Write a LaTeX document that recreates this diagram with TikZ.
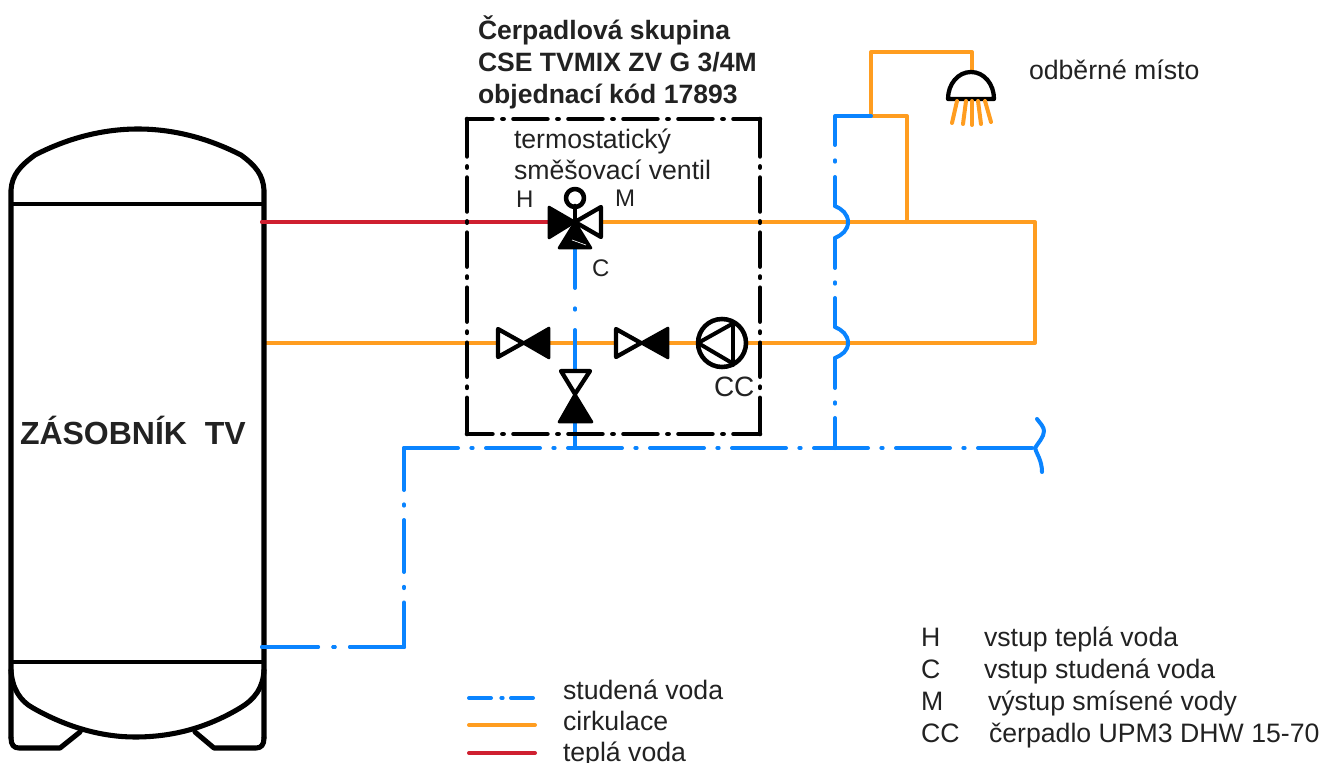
\documentclass[tikz,border=0pt]{standalone}
\usepackage{fontspec}
\setmainfont{Liberation Sans}
\definecolor{coldc}{HTML}{0A84FF}
\definecolor{circc}{HTML}{FF9D20}
\definecolor{hotc}{HTML}{CF2030}
\definecolor{txtc}{HTML}{222222}
\tikzset{
  pipe/.style={line width=3pt,line cap=round,line join=round},
  coldpipe/.style={pipe,draw=coldc},
  circpipe/.style={pipe,draw=circc},
  hotpipe/.style={pipe,draw=hotc},
  tankline/.style={draw=black,line width=3.8pt,line join=round,line cap=round},
  frameline/.style={draw=black,line width=3.4pt,line cap=round,line join=round},
  framev/.style={frameline,dash pattern=on 28.1pt off 7.4pt on 1pt off 7.4pt on 25.5pt off 7.4pt on 1pt off 7.4pt on 25.5pt off 7.4pt on 1pt off 7.4pt on 25.5pt off 7.4pt on 1pt off 7.4pt on 25.5pt off 7.4pt on 1pt off 7.4pt on 40pt},
  frameh/.style={frameline,dash pattern=on 25.5pt off 7.4pt on 1pt off 7.35pt,dash phase=6.4pt},
  valveopen/.style={draw=black,fill=white,line width=3.2pt,line join=round},
  valvefull/.style={draw=black,fill=black,line width=2pt,line join=round},
  sym/.style={draw=black,line width=3.4pt,line join=round,line cap=round},
  lbl/.style={anchor=base west,inner sep=0pt,outer sep=0pt,text=txtc,font=\fontsize{20}{24}\selectfont},
  lblb/.style={lbl,font=\fontsize{19.9}{24}\selectfont\bfseries}
}
\begin{document}
\begin{tikzpicture}[x=0.75pt,y=-0.75pt]
\useasboundingbox (0,0) rectangle (1335,763);
% key points
\coordinate (hotout) at (262,222);
\coordinate (valveL) at (549,222);
\coordinate (valveR) at (601,222);
\coordinate (valveC) at (575,222);
\coordinate (valveB) at (575,249);
\coordinate (retR) at (1035,222);
\coordinate (retB) at (1035,343);
\coordinate (retT) at (264,343);
\coordinate (brA) at (907,222);
\coordinate (brB) at (907,116);
\coordinate (junc) at (871,116);
\coordinate (topL) at (871,52);
\coordinate (topR) at (972,52);
\coordinate (showerIn) at (972,72);
\coordinate (colC) at (835,116);
\coordinate (b1t) at (835,206);
\coordinate (b1b) at (835,238);
\coordinate (b2t) at (835,327);
\coordinate (b2b) at (835,358);
\coordinate (colB) at (835,448);
\coordinate (mainR) at (1035,448);
\coordinate (mainL) at (404,448);
\coordinate (mainD) at (404,647);
\coordinate (tankIn) at (262,647);
\coordinate (v3T) at (575,371);
\coordinate (v3B) at (575,422);
\coordinate (stemB) at (575,448);
\coordinate (pumpC) at (722,343);
% circulation and hot pipes
\draw[hotpipe] (hotout) -- (valveL);
\draw[circpipe] (valveR) -- (retR) -- (retB) -- (retT);
\draw[circpipe] (brA) -- (brB) -- (junc) -- (topL) -- (topR) -- (showerIn);
% cold pipes
\draw[coldpipe,dash pattern=on 40.5pt off 10pt on 1pt off 10pt] (mainL) -- (mainR);
\draw[coldpipe] (mainR) .. controls (1038,443) and (1044,437) .. (1044,431) .. controls (1044,427) and (1040,423) .. (1037,419);
\draw[coldpipe] (mainR) .. controls (1036,453) and (1042,460) .. (1042,472);
\draw[coldpipe,dash pattern=on 31.5pt off 10.75pt on 1pt off 10.75pt on 39pt off 11.1pt on 1pt off 10.75pt on 60pt] (mainL) -- (mainD);
\draw[coldpipe,dash pattern=on 40.5pt off 11.5pt on 1pt off 11.5pt on 60pt] (mainD) -- (tankIn);
\draw[coldpipe,dash pattern=on 48.75pt off 11.5pt on 1pt off 11.5pt on 60pt] (junc) -- (colC) -- (b1t);
\draw[coldpipe] (b1t) .. controls (842,209) and (848,214) .. (848,222) .. controls (848,230) and (842,235) .. (b1b);
\draw[coldpipe,dash pattern=on 22.5pt off 10.75pt on 1pt off 10.75pt on 40pt] (b1b) -- (b2t);
\draw[coldpipe] (b2t) .. controls (842,330) and (848,335) .. (848,343) .. controls (848,351) and (842,355) .. (b2b);
\draw[coldpipe,dash pattern=on 22.5pt off 10.75pt on 1pt off 10.75pt on 40pt] (b2b) -- (colB);
\draw[coldpipe,dash pattern=on 29.25pt off 15.25pt on 1pt off 15.25pt on 60pt] (valveB) -- (v3T);
\draw[coldpipe] (v3B) -- (stemB);
% frame
\coordinate (frTL) at (467,119);
\coordinate (frTR) at (760,119);
\coordinate (frBL) at (467,434);
\coordinate (frBR) at (760,434);
\draw[frameh] (frTL) -- (frTR);
\draw[frameh] (frBL) -- (frBR);
\draw[framev] (frTL) -- (frBL);
\draw[framev] (frTR) -- (frBR);
% mixing valve
\draw[sym] (valveC) -- (575,206);
\draw[sym] (575,198) circle[radius=9];
\draw[valveopen] (valveC) -- (601,207) -- (601,237) -- cycle;
\draw[valvefull] (valveC) -- (549,207) -- (549,238) -- cycle;
\draw[valvefull] (valveC) -- (559,248) -- (591,248) -- cycle;
\draw[white,line width=0.5pt] (572,240) -- (586,245);
% straight valves
\draw[valveopen] (523,343) -- (498,329) -- (498,357) -- cycle;
\draw[valvefull] (523,343) -- (549,328) -- (549,358) -- cycle;
\draw[valveopen] (641,343) -- (616,329) -- (616,357) -- cycle;
\draw[valvefull] (641,343) -- (668,328) -- (668,358) -- cycle;
\draw[valveopen] (575,394) -- (561,371) -- (590,371) -- cycle;
\draw[valvefull] (575,394) -- (559,422) -- (592,422) -- cycle;
% pump
\draw[sym,fill=white] (pumpC) circle[radius=24];
\draw[sym,line width=3pt] (698,343) -- (732,324);
\draw[sym,line width=3pt] (698,343) -- (732,363);
\draw[sym,line width=3pt] (733,322) -- (733,365);
% shower
\draw[sym,line width=3.2pt] (948,99) .. controls (948,84) and (958,72) .. (971,72) .. controls (984,72) and (994,84) .. (994,99) -- cycle;
\draw[circpipe] (957,101) -- (952,123);
\draw[circpipe] (966,101) -- (963,124);
\draw[circpipe] (972,101) -- (972,125);
\draw[circpipe] (978,101) -- (981,124);
\draw[circpipe] (985,101) -- (991,122);
% tank
\draw[tankline] (11,738) -- (11,190) .. controls (12,175) and (20,166) .. (35,155) .. controls (70,137) and (105,129) .. (138,129) .. controls (171,129) and (206,137) .. (241,155) .. controls (256,166) and (263,175) .. (264,190) -- (264,738);
\draw[tankline,line width=3pt] (11,204) -- (264,204);
\draw[tankline,line width=3pt] (11,662) -- (264,662);
\draw[tankline] (11,670) .. controls (12,688) and (20,701) .. (33,708) .. controls (70,729) and (105,737) .. (135,737) .. controls (170,737) and (205,729) .. (240,708) .. controls (255,699) and (263,688) .. (264,670);
\draw[tankline] (11,738) .. controls (11,745) and (14,748) .. (19,748) -- (60,748) -- (80,732);
\draw[tankline] (264,738) .. controls (264,745) and (261,748) .. (256,748) -- (214,748) -- (195,732);
% blue and red ends over tank
\draw[coldpipe,dash pattern=on 40.5pt off 11.5pt on 1pt off 11.5pt on 60pt] (mainD) -- (tankIn);
\draw[hotpipe] (hotout) -- (300,222);
% legend lines
\coordinate (lgAa) at (469,698); \coordinate (lgAb) at (533,698);
\coordinate (lgBa) at (469,725); \coordinate (lgBb) at (535,725);
\coordinate (lgCa) at (469,753); \coordinate (lgCb) at (535,753);
\draw[coldpipe,dash pattern=on 16.5pt off 7.75pt on 1pt off 6.25pt on 20pt] (lgAa) -- (lgAb);
\draw[circpipe] (lgBa) -- (lgBb);
\draw[hotpipe] (lgCa) -- (lgCb);
% texts
\node[lblb] (t1) at (478,40) {Čerpadlová skupina};
\node[lblb] (t2) at (478,72) {CSE TVMIX ZV G 3/4M};
\node[lblb] (t3) at (478,104) {objednací kód 17893};
\node[lbl] (t4) at (514,149) {termostatický};
\node[lbl] (t5) at (514,180) {směšovací ventil};
\node[lbl,font=\fontsize{18}{22}\selectfont] (lH) at (516,208) {H};
\node[lbl,font=\fontsize{18}{22}\selectfont] (lM) at (615,207) {M};
\node[lbl,font=\fontsize{18}{22}\selectfont] (lC) at (592,276) {C};
\node[lbl,font=\fontsize{21}{24}\selectfont] (lCC) at (714,396) {CC};
\node[lbl] (tod) at (1029,80) {odběrné místo};
\node[lblb,font=\fontsize{24}{28}\selectfont\bfseries] (tank) at (20,444) {ZÁSOBNÍK\ \ TV};
\node[lbl] (lg1) at (563,699) {studená voda};
\node[lbl] (lg2) at (563,730) {cirkulace};
\node[lbl] (lg3) at (563,761) {teplá voda};
\node[lbl] (k1) at (921,646) {H};
\node[lbl] (k1t) at (984,646) {vstup teplá voda};
\node[lbl] (k2) at (921,678) {C};
\node[lbl] (k2t) at (984,678) {vstup studená voda};
\node[lbl] (k3) at (921,710) {M};
\node[lbl] (k3t) at (988,710) {výstup smísené vody};
\node[lbl] (k4) at (921,742) {CC};
\node[lbl] (k4t) at (989,742) {čerpadlo UPM3 DHW 15-70};
\end{tikzpicture}
\end{document}
